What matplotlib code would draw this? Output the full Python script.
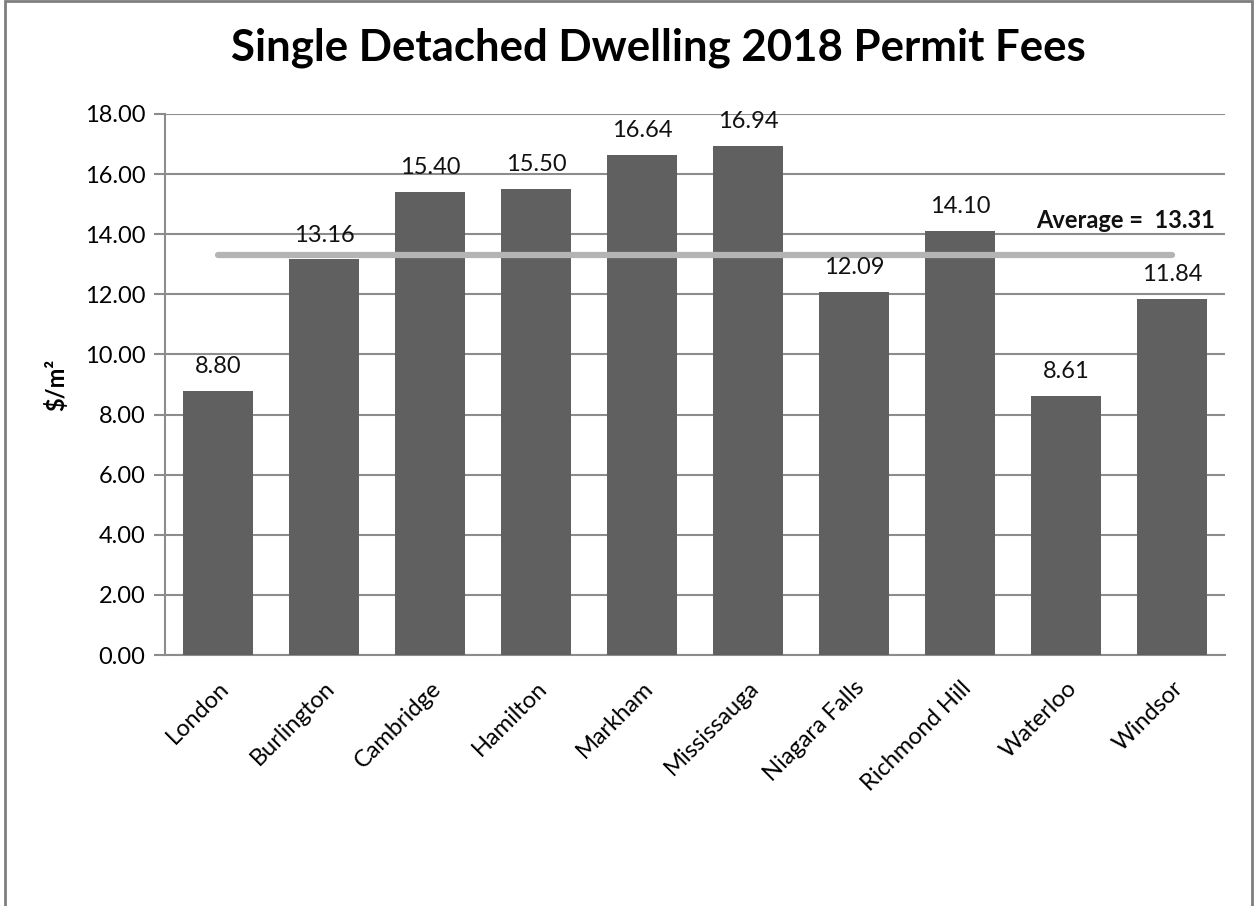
import matplotlib
matplotlib.use("Agg")
import matplotlib.pyplot as plt
from matplotlib.patches import Rectangle

cities = ["London", "Burlington", "Cambridge", "Hamilton", "Markham",
          "Mississauga", "Niagara Falls", "Richmond Hill", "Waterloo", "Windsor"]
fees = [8.80, 13.16, 15.40, 15.50, 16.64, 16.94, 12.09, 14.10, 8.61, 11.84]
average = 13.31
y_ticks = [0, 2, 4, 6, 8, 10, 12, 14, 16, 18]

plt.rcParams["font.family"] = ["Lato", "DejaVu Sans"]

fig = plt.figure(figsize=(12.54, 9.06), dpi=100)
ax = fig.add_axes([165 / 1254, 1 - 655 / 906, 1060 / 1254, 541 / 906])

grid_c = "#8c8c8c"
fs = 17
x = list(range(len(cities)))
ax.bar(x, fees, width=0.66, color="#606060", zorder=3)

for xi, v in zip(x, fees):
    ax.annotate(f"{v:.2f}", (xi, v), xytext=(0, 10), textcoords="offset points",
                ha="center", va="bottom", fontsize=fs, color="#111111", zorder=5)

ax.plot([x[0], x[-1]], [average, average], color="#b4b4b4", lw=4.5,
        solid_capstyle="round", zorder=4)
ax.text(1.0 - 10 / 1060, 14.45, f"Average =  {average:.2f}", transform=ax.get_yaxis_transform(),
        ha="right", va="center", fontsize=fs, fontweight="bold", color="#111111")

ax.set_xlim(-0.5, len(cities) - 0.5)
ax.set_ylim(0, 18)
ax.set_yticks(y_ticks)
ax.set_yticklabels([f"{t:.2f}" for t in y_ticks], fontsize=fs)
ax.set_xticks(x)
ax.set_xticklabels(cities, rotation=45, ha="right", rotation_mode="anchor", fontsize=fs)
ax.tick_params(axis="x", length=0, pad=16)
ax.tick_params(axis="y", length=8, width=1.5, color=grid_c, pad=6)
ax.yaxis.grid(True, color=grid_c, lw=1.5, zorder=0)
ax.set_axisbelow(True)
for side in ["top", "right"]:
    ax.spines[side].set_visible(False)
for side in ["left", "bottom"]:
    ax.spines[side].set_color(grid_c)
    ax.spines[side].set_linewidth(1.5)

ax.set_ylabel("$/m²", fontsize=fs, fontweight="bold", labelpad=12)

fig.text(0.5 * (232 + 1085) / 1254, 1 - 48 / 906, "Single Detached Dwelling 2018 Permit Fees",
         ha="center", va="center", fontsize=31.5, fontweight="bold")

fig.patches.append(Rectangle((5 / 1254, -0.05), 1247 / 1254, 1.05 - 1.5 / 906,
                             transform=fig.transFigure, fill=False,
                             edgecolor="#7f7f7f", lw=2))

fig.savefig("out.png", dpi=100)
